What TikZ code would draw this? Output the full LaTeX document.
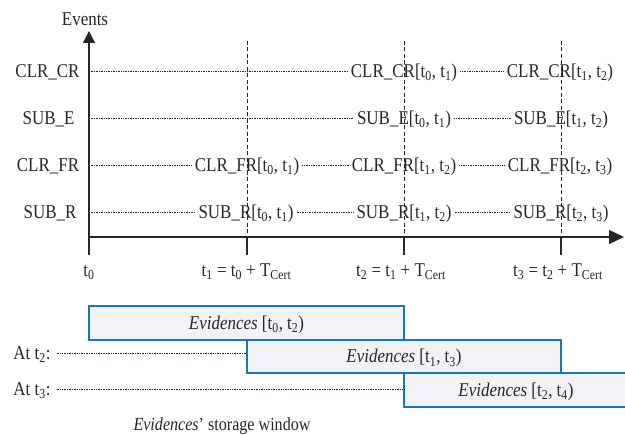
\documentclass[tikz,border=0pt]{standalone}
\usepackage{fontspec}
\setmainfont[FakeStretch=0.87]{Liberation Serif}
\usetikzlibrary{arrows.meta}
\definecolor{ink}{HTML}{262626}
\definecolor{winblue}{HTML}{1B75BB}
\definecolor{winfill}{HTML}{F2F3F6}
\newcommand{\Tc}{T\textsubscript{Cert}}
\newcommand{\ts}[1]{t\textsubscript{#1}}

\begin{document}
\begin{tikzpicture}[x=1pt,y=-1pt,
  txt/.style={font=\fontsize{19.5}{22}\selectfont, text=ink, inner xsep=3pt, inner ysep=0pt,
              text height=12.9pt, text depth=0pt},
  axisline/.style={draw=ink, line width=1.3pt},
  gridline/.style={draw=ink, line width=0.8pt, dash pattern=on 4pt off 2.5pt},
  tickline/.style={draw=ink, line width=1.1pt},
  guide/.style={draw=ink, line width=0.65pt, dash pattern=on 0.9pt off 0.8pt},
  win/.style={txt, draw=winblue, fill=winfill, line width=1.6pt, inner sep=0pt,
              outer sep=0pt, minimum height=34pt}
]
\useasboundingbox (0,0) rectangle (625,435);

% ---------- axes ----------
\coordinate (O)    at (89,237);
\coordinate (ytop) at (89,31);
\coordinate (ybot) at (89,255);
\coordinate (xend) at (624,237);
\draw[axisline, -{Triangle[length=12pt,width=12pt]}] (ybot) -- (ytop);
\draw[axisline, -{Triangle[length=15pt,width=14pt]}] (O) -- (xend);
\node[txt] (events) at (85,19) {Events};

% ---------- certificate period boundaries ----------
\foreach \k/\gx in {1/247, 2/404, 3/561} {
  \coordinate (g\k t) at (\gx,41);
  \coordinate (g\k a) at (\gx,237);
  \coordinate (g\k b) at (\gx,255);
  \draw[gridline] (g\k t) -- (g\k a);
  \draw[tickline] (g\k a) -- (g\k b);
}

% ---------- event rows ----------
\node[txt] (rCC) at (47.5,71)  {CLR\_CR};
\node[txt] (rSE) at (48.5,118) {SUB\_E};
\node[txt] (rCF) at (48,165)   {CLR\_FR};
\node[txt] (rSR) at (50,212)   {SUB\_R};

\coordinate (sCC) at (90.5,71);
\coordinate (sSE) at (90.5,118);
\coordinate (sCF) at (90.5,165);
\coordinate (sSR) at (90.5,212);

\node[txt] (cc1) at (404,71)  {CLR\_CR[\ts0, \ts1)};
\node[txt] (cc2) at (560,71)  {CLR\_CR[\ts1, \ts2)};

\node[txt] (se1) at (404,118) {SUB\_E[\ts0, \ts1)};
\node[txt] (se2) at (561,118) {SUB\_E[\ts1, \ts2)};

\node[txt] (cf0) at (247,165) {CLR\_FR[\ts0, \ts1)};
\node[txt] (cf1) at (404,165) {CLR\_FR[\ts1, \ts2)};
\node[txt] (cf2) at (560,165) {CLR\_FR[\ts2, \ts3)};

\node[txt] (sr0) at (246,212) {SUB\_R[\ts0, \ts1)};
\node[txt] (sr1) at (404,212) {SUB\_R[\ts1, \ts2)};
\node[txt] (sr2) at (561,212) {SUB\_R[\ts2, \ts3)};

\draw[guide] (sCC) -- (cc1) -- (cc2);
\draw[guide] (sSE) -- (se1) -- (se2);
\draw[guide] (sCF) -- (cf0) -- (cf1) -- (cf2);
\draw[guide] (sSR) -- (sr0) -- (sr1) -- (sr2);

% ---------- time labels ----------
\node[txt] (l0) at (89,270)    {\ts0};
\node[txt] (l1) at (246.5,270) {\ts1 = \ts0 + \Tc};
\node[txt] (l2) at (401,270)   {\ts2 = \ts1 + \Tc};
\node[txt] (l3) at (558,270)   {\ts3 = \ts2 + \Tc};

% ---------- storage windows ----------
\node[win, minimum width=315pt] (w1) at (246.5,323) {\textit{Evidences} [\ts0, \ts2)};
\node[win, minimum width=314pt, minimum height=33pt] (w2) at (404,356.5) {\textit{Evidences} [\ts1, \ts3)};
\node[win, minimum width=224pt] (w3) at (516,390) {\textit{Evidences} [\ts2, \ts4)};

\node[txt] (at2) at (32,353) {At \ts2:};
\node[txt] (at3) at (32,389) {At \ts3:};
\draw[guide, shorten <=3pt] (at2.east) -- (at2.east -| w2.west);
\draw[guide, shorten <=3pt] (at3.east) -- (at3.east -| w3.west);

\node[txt, font=\fontsize{18.5}{21}\selectfont] (caption) at (222,424)
  {\textit{Evidences}' storage window};
\end{tikzpicture}
\end{document}
